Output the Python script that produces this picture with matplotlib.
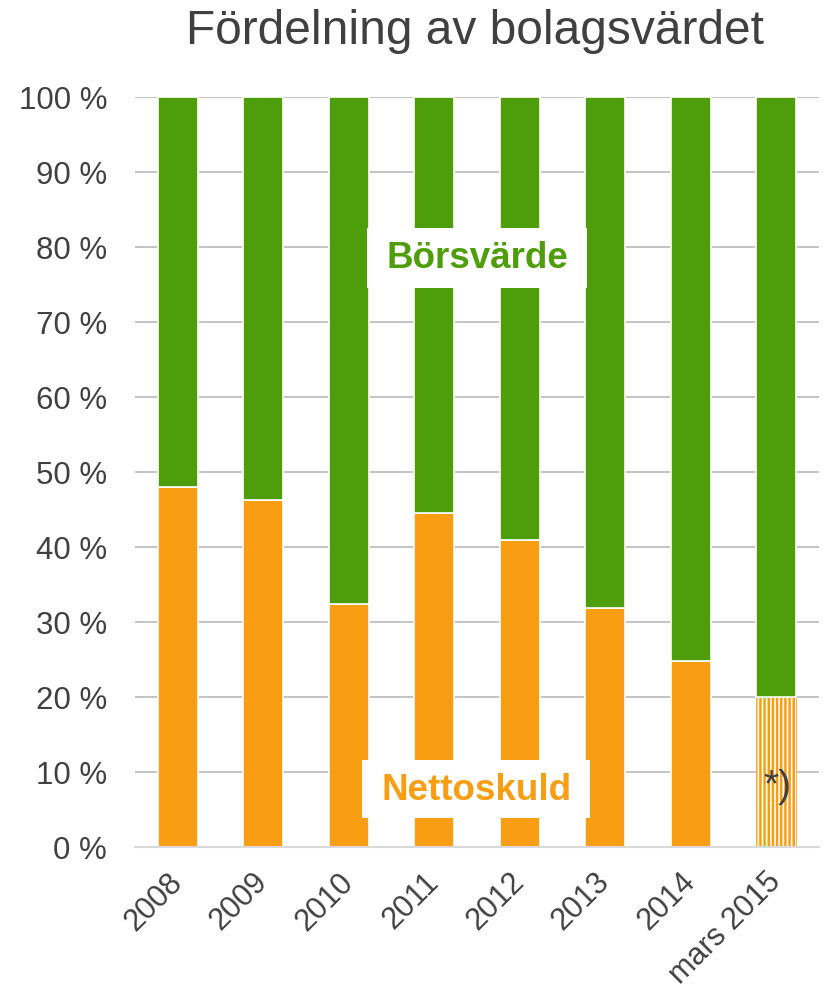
import matplotlib.pyplot as plt
import matplotlib.patches as mpatches
import numpy as np

# data (percent of company value)
years = ["2008", "2009", "2010", "2011", "2012", "2013", "2014", "mars 2015"]
nettoskuld = [48.0, 46.3, 32.4, 44.5, 40.9, 31.9, 24.8, 20.0]
borsvarde = [100 - v for v in nettoskuld]

green = "#4E9D0A"
orange = "#F99D12"
grey_text = "#404040"

plt.rcParams['font.family'] = ['Liberation Sans', 'DejaVu Sans']
plt.rcParams['hatch.linewidth'] = 1.8

fig = plt.figure(figsize=(8.23, 9.92), dpi=100)
ax = fig.add_axes([0.164, 0.146, 0.831, 0.756])

x = np.arange(len(years))
w = 0.47

# bars, last one (estimate) hatched
for i in range(len(years)):
    if i == len(years) - 1:
        ax.bar(x[i], nettoskuld[i], w, color="white", edgecolor=orange,
               hatch="||||", linewidth=0.5, zorder=2)
    else:
        ax.bar(x[i], nettoskuld[i], w, color=orange, edgecolor="white",
               linewidth=1.2, zorder=2)
    ax.bar(x[i], borsvarde[i], w, bottom=nettoskuld[i], color=green,
           edgecolor="white", linewidth=1.2, zorder=2)

ax.set_xlim(-0.5, len(years) - 0.5)
ax.set_ylim(0, 100)
ax.set_yticks(range(0, 101, 10))
ax.set_yticklabels(["%d %%" % v for v in range(0, 101, 10)])
ax.grid(axis="y", color="#BFBFBF", linewidth=1.3, zorder=0)
ax.set_axisbelow(True)
for s in ["top", "right", "left"]:
    ax.spines[s].set_visible(False)
ax.spines["bottom"].set_color("#D9D9D9")
ax.spines["bottom"].set_linewidth(1.5)
ax.tick_params(axis="y", length=0, labelsize=22.5, colors=grey_text, pad=20)
ax.tick_params(axis="x", length=0, labelsize=22, colors=grey_text, pad=22)
ax.set_xticks(x)
ax.set_xticklabels(years, rotation=45, ha="right", va="center", rotation_mode="anchor")

# labels in white boxes
ax.add_patch(mpatches.Rectangle((2.21, 74.5), 2.58, 8.0, fc="white", ec="none", zorder=4))
ax.text(3.5, 78.5, "Börsvärde", color=green, fontsize=26.5, fontweight="bold",
        ha="center", va="center", zorder=5)
ax.add_patch(mpatches.Rectangle((2.16, 3.9), 2.66, 7.7, fc="white", ec="none", zorder=4))
ax.text(3.49, 7.6, "Nettoskuld", color=orange, fontsize=26.5, fontweight="bold",
        ha="center", va="center", zorder=5)
ax.text(x[-1] + 0.01, 8.0, "*)", color=grey_text, fontsize=28,
        ha="center", va="center", zorder=5)

fig.text(0.577, 0.968, "Fördelning av bolagsvärdet", fontsize=34.5,
         color=grey_text, ha="center", va="center")

fig.savefig("out.png", dpi=100)
